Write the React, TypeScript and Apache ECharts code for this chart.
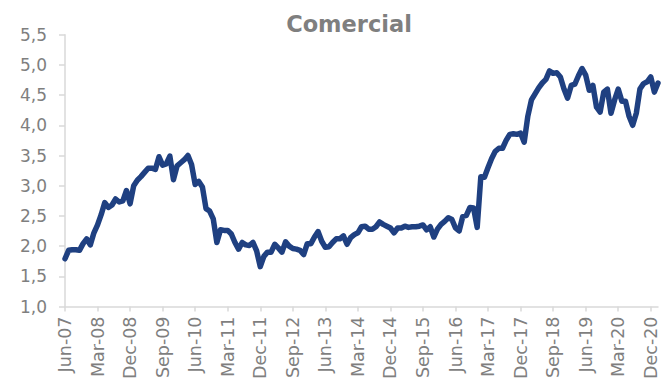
import React, { useEffect, useRef } from "react";
import * as echarts from "echarts";

const MONTHS = ["Jan", "Feb", "Mar", "Apr", "May", "Jun", "Jul", "Aug", "Sep", "Oct", "Nov", "Dec"];

// Monthly categories Jun-07 .. Feb-21
const categories: string[] = [];
for (let k = 0; k < 165; k++) {
  const m = (5 + k) % 12;
  const y = 7 + Math.floor((5 + k) / 12);
  categories.push(`${MONTHS[m]}-${String(y).padStart(2, "0")}`);
}

const comercial: number[] = [
  1.79, 1.93, 1.94, 1.94, 1.93, 2.04, 2.12, 2.02, 2.22, 2.35,
  2.52, 2.72, 2.64, 2.68, 2.78, 2.73, 2.75, 2.92, 2.70, 3.0,
  3.09, 3.15, 3.22, 3.29, 3.29, 3.27, 3.48, 3.34, 3.36, 3.49,
  3.10, 3.33, 3.38, 3.43, 3.50, 3.35, 3.02, 3.07, 2.98, 2.62,
  2.58, 2.45, 2.06, 2.27, 2.26, 2.26, 2.20, 2.06, 1.95, 2.06,
  2.02, 2.01, 2.06, 1.92, 1.66, 1.83, 1.90, 1.90, 2.03, 1.97,
  1.90, 2.07, 2.00, 1.96, 1.95, 1.93, 1.86, 2.04, 2.04, 2.15,
  2.24, 2.08, 1.98, 1.99, 2.06, 2.12, 2.12, 2.17, 2.03, 2.14,
  2.19, 2.22, 2.32, 2.33, 2.28, 2.28, 2.32, 2.40, 2.36, 2.33,
  2.30, 2.22, 2.30, 2.30, 2.33, 2.31, 2.32, 2.32, 2.33, 2.35,
  2.27, 2.32, 2.15, 2.28, 2.36, 2.41, 2.47, 2.44, 2.30, 2.25,
  2.49, 2.51, 2.64, 2.63, 2.31, 3.15, 3.14, 3.30, 3.45, 3.57,
  3.62, 3.62, 3.75, 3.85, 3.86, 3.85, 3.87, 3.72, 4.15, 4.42,
  4.52, 4.62, 4.70, 4.76, 4.90, 4.86, 4.87, 4.80, 4.60, 4.45,
  4.66, 4.68, 4.82, 4.94, 4.83, 4.58, 4.66, 4.30, 4.22, 4.55,
  4.60, 4.20, 4.42, 4.60, 4.40, 4.40, 4.15, 4.00, 4.20, 4.60,
  4.69, 4.72, 4.80, 4.55, 4.70,
];

const yMin = 1.0;
const yMax = 5.5;
const yStep = 0.5;

const FONT = "DejaVu Sans, Liberation Sans, Arial, sans-serif";

export default function App() {
  const ref = useRef<HTMLDivElement>(null);
  useEffect(() => {
    if (!ref.current) return;
    const chart = echarts.init(ref.current, undefined, { renderer: "svg" });
    chart.setOption({
      animation: false,
      title: {
        text: "Comercial",
        left: 344,
        textAlign: "center",
        top: 7,
        textStyle: {
          fontFamily: FONT,
          fontSize: 22.5,
          fontWeight: "bold",
          color: "#7f7f7f",
        },
      },
      grid: {
        left: 65,
        right: 3,
        top: 34.7,
        bottom: 78.5,
        containLabel: false,
        outerBoundsMode: "none",
      },
      xAxis: {
        type: "category",
        data: categories,
        boundaryGap: false,
        axisLine: { lineStyle: { color: "#d9d9d9", width: 1.5 } },
        axisTick: { show: true, interval: 8, length: 5, lineStyle: { color: "#d9d9d9", width: 1.5 } },
        axisLabel: {
          interval: 8,
          rotate: 90,
          margin: 10,
          color: "#7f7f7f",
          fontSize: 17.5,
          fontFamily: FONT,
        },
        splitLine: { show: false },
      },
      yAxis: {
        type: "value",
        min: yMin,
        max: yMax,
        interval: yStep,
        axisLine: { show: true, lineStyle: { color: "#d9d9d9", width: 1.5 } },
        axisTick: { show: true, length: 6, lineStyle: { color: "#d9d9d9", width: 1.5 } },
        axisLabel: {
          margin: 18,
          color: "#7f7f7f",
          fontSize: 17,
          fontFamily: FONT,
          formatter: (v: number) => v.toFixed(1).replace(".", ","),
        },
        splitLine: { show: false },
      },
      series: [
        {
          type: "line",
          data: comercial,
          showSymbol: false,
          symbol: "none",
          lineStyle: { color: "#1f4081", width: 5.5, join: "round", cap: "round" },
        },
      ],
    });
    return () => chart.dispose();
  }, []);
  return <div ref={ref} style={{ width: 661, height: 385, position: "absolute", left: 0, top: 0 }} />;
}
